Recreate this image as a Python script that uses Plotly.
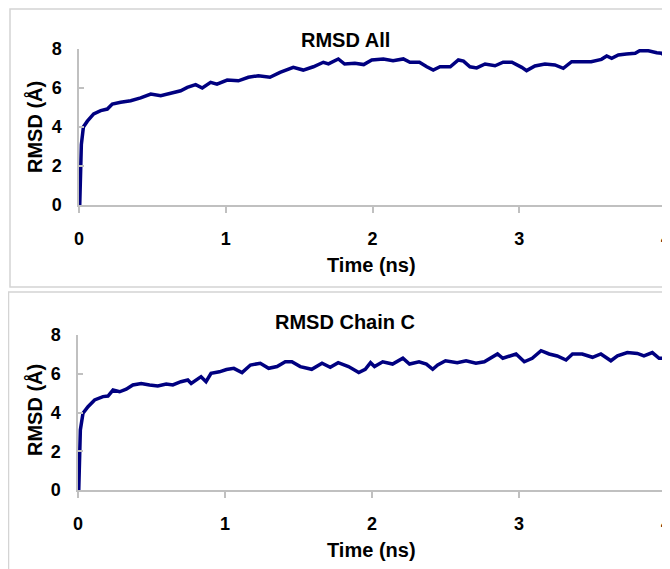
import plotly.graph_objects as go

# ---- data ----
time_all = [0.005, 0.016, 0.03, 0.057, 0.10, 0.148, 0.193, 0.227, 0.284, 0.352, 0.42, 0.489, 0.557,
            0.625, 0.693, 0.738, 0.795, 0.84, 0.897, 0.94, 1.01, 1.086, 1.154, 1.222, 1.301, 1.37,
            1.46, 1.528, 1.597, 1.665, 1.70, 1.767, 1.81, 1.88, 1.94, 1.995, 2.074, 2.14, 2.21,
            2.255, 2.32, 2.37, 2.414, 2.46, 2.53, 2.585, 2.62, 2.664, 2.71, 2.767, 2.835, 2.89,
            2.95, 3.017, 3.05, 3.107, 3.175, 3.243, 3.30, 3.357, 3.425, 3.49, 3.56, 3.596, 3.63,
            3.675, 3.73, 3.79, 3.82, 3.88, 3.937, 3.97, 4.0]
rmsd_all = [0.0, 3.1, 4.0, 4.3, 4.67, 4.84, 4.92, 5.18, 5.27, 5.35, 5.49, 5.69, 5.6,
            5.73, 5.86, 6.03, 6.17, 6.0, 6.29, 6.2, 6.41, 6.37, 6.55, 6.63, 6.55, 6.8,
            7.06, 6.92, 7.09, 7.32, 7.24, 7.49, 7.23, 7.27, 7.2, 7.44, 7.49, 7.4, 7.49,
            7.32, 7.32, 7.09, 6.92, 7.09, 7.09, 7.44, 7.38, 7.09, 7.03, 7.23, 7.14, 7.32,
            7.32, 7.06, 6.89, 7.13, 7.23, 7.18, 7.01, 7.35, 7.35, 7.35, 7.47, 7.64, 7.52,
            7.69, 7.74, 7.78, 7.91, 7.91, 7.81, 7.78, 7.6]

time_chain = [0.005, 0.016, 0.034, 0.068, 0.113, 0.17, 0.204, 0.238, 0.283, 0.328, 0.373, 0.43,
              0.487, 0.543, 0.6, 0.645, 0.70, 0.747, 0.77, 0.837, 0.871, 0.905, 0.962, 1.01,
              1.06, 1.116, 1.173, 1.24, 1.297, 1.354, 1.41, 1.455, 1.512, 1.59, 1.66, 1.716,
              1.77, 1.84, 1.91, 1.954, 1.99, 2.017, 2.073, 2.14, 2.21, 2.255, 2.32, 2.37, 2.413,
              2.447, 2.50, 2.58, 2.64, 2.707, 2.764, 2.8, 2.854, 2.89, 2.945, 2.98, 3.036, 3.09,
              3.15, 3.205, 3.26, 3.32, 3.364, 3.43, 3.50, 3.557, 3.625, 3.67, 3.737, 3.805, 3.85,
              3.907, 3.953, 4.0]
rmsd_chain = [0.0, 3.1, 3.96, 4.3, 4.65, 4.82, 4.85, 5.16, 5.07, 5.2, 5.42, 5.5,
              5.42, 5.37, 5.47, 5.42, 5.59, 5.68, 5.5, 5.85, 5.59, 6.02, 6.1, 6.22,
              6.28, 6.06, 6.45, 6.54, 6.28, 6.37, 6.62, 6.62, 6.37, 6.23, 6.54, 6.33,
              6.57, 6.37, 6.06, 6.23, 6.57, 6.37, 6.62, 6.5, 6.8, 6.5, 6.62, 6.5, 6.23,
              6.45, 6.67, 6.57, 6.67, 6.54, 6.62, 6.8, 7.02, 6.8, 6.92, 7.02, 6.62, 6.8,
              7.19, 7.02, 6.92, 6.71, 7.02, 7.02, 6.85, 7.02, 6.67, 6.92, 7.09, 7.05, 6.92,
              7.09, 6.8, 6.8]

x_ticks = [0, 1, 2, 3, 4]
y_ticks = [0, 2, 4, 6, 8]
panel_titles = ["RMSD All", "RMSD Chain C"]
x_title = "Time (ns)"
y_title = "RMSD (Å)"

W, H = 670, 569
OFF = 8  # page body margin
LINE = "#000080"
AXC = "#c0c0c0"
FONT = "Liberation Sans, Arial, sans-serif"


def px(x):
    return (x - OFF) / W


def py(y):
    return 1 - (y - OFF) / H


fig = go.Figure()
fig.add_trace(go.Scatter(x=time_all, y=rmsd_all, mode="lines",
                         line=dict(color=LINE, width=3.5), xaxis="x", yaxis="y",
                         showlegend=False, hoverinfo="skip"))
fig.add_trace(go.Scatter(x=time_chain, y=rmsd_chain, mode="lines",
                         line=dict(color=LINE, width=3.5), xaxis="x2", yaxis="y2",
                         showlegend=False, hoverinfo="skip"))

tickfont = dict(family=FONT, size=18, color="black", weight="bold")

xcommon = dict(range=[0, 4], tickvals=x_ticks, ticktext=[str(v) for v in x_ticks],
               showgrid=False, zeroline=False, showline=True, linecolor=AXC, linewidth=1.5,
               ticks="outside", ticklen=6, tickcolor=AXC, tickwidth=1.5,
               tickfont=tickfont, ticklabelstandoff=11, fixedrange=True, automargin=False)
ycommon = dict(range=[0, 8], tickvals=y_ticks, ticktext=[str(v) for v in y_ticks],
               showgrid=False, zeroline=False, showline=True, linecolor=AXC, linewidth=1.5,
               ticks="inside", ticklen=5, tickcolor=AXC, tickwidth=1.5,
               tickfont=tickfont, ticklabelstandoff=12, fixedrange=True, automargin=False)

fig.update_layout(
    width=W, height=H,
    margin=dict(l=0, r=0, t=0, b=0, pad=0, autoexpand=False),
    paper_bgcolor="white", plot_bgcolor="white",
    xaxis=dict(domain=[px(79), px(666)], anchor="y", **xcommon),
    yaxis=dict(domain=[py(205), py(49)], anchor="x", **ycommon),
    xaxis2=dict(domain=[px(78), px(666)], anchor="y2", **xcommon),
    yaxis2=dict(domain=[py(490), py(335)], anchor="x2", **ycommon),
)

# panel borders
fig.add_shape(type="rect", xref="paper", yref="paper",
              x0=px(10), x1=px(690), y0=py(287), y1=py(9),
              line=dict(color="#d4d4d4", width=1.5), fillcolor="rgba(0,0,0,0)")
fig.add_shape(type="rect", xref="paper", yref="paper",
              x0=px(8.5), x1=px(690), y0=py(590), y1=py(292),
              line=dict(color="#d4d4d4", width=1.5), fillcolor="rgba(0,0,0,0)")

titlefont = dict(family=FONT, size=20, color="black", weight="bold")
annots = [
    (panel_titles[0], 345, 40, 0),
    (panel_titles[1], 345, 322, 0),
    (x_title, 371, 265, 0),
    (x_title, 371, 550, 0),
    (y_title, 35, 127, -90),
    (y_title, 34, 410, -90),
]
for text, ax_, ay_, rot in annots:
    fig.add_annotation(text=text, x=px(ax_), y=py(ay_), xref="paper", yref="paper",
                       xanchor="center", yanchor="middle", showarrow=False,
                       textangle=rot, font=titlefont)

fig.write_html("out.html")
